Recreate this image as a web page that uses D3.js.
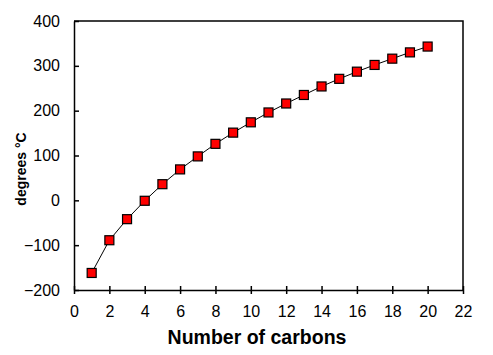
<!DOCTYPE html>
<html>
<head>
<meta charset="utf-8">
<script src="https://cdn.jsdelivr.net/npm/d3@7"></script>
<style>
  body { margin: 0; background: #fff; }
  text { font-family: "Liberation Sans", Arial, sans-serif; }
</style>
</head>
<body>
<div id="chart"></div>
<script>
// boiling points of straight-chain alkanes
const carbons = [1, 2, 3, 4, 5, 6, 7, 8, 9, 10, 11, 12, 13, 14, 15, 16, 17, 18, 19, 20];
const boiling = [-162, -89, -42, -1, 36, 69, 98, 126, 151, 174, 196, 216, 235, 254, 271, 287, 302, 316, 330, 343];
const xTicks = [0, 2, 4, 6, 8, 10, 12, 14, 16, 18, 20, 22];
const yTicks = [-200, -100, 0, 100, 200, 300, 400];

var margin = { top: 21, right: 30, bottom: 65, left: 74 },
    width = 493 - margin.left - margin.right,
    height = 355 - margin.top - margin.bottom;

const svg = d3.select("#chart")
  .append("svg")
    .attr("width", 493)
    .attr("height", 355)
  .append("g")
    .attr("transform", `translate(${margin.left}, ${margin.top})`);

const x = d3.scaleLinear().domain([0, 22]).range([0, width]);
const y = d3.scaleLinear().domain([-200, 400]).range([height, 0]);

// frame: top and right borders
svg.append("path")
  .attr("d", `M0,0H${width}V${height}`)
  .attr("fill", "none")
  .attr("stroke", "#000")
  .attr("stroke-width", 1.5);

// X axis
const xAxis = svg.append("g")
  .attr("transform", `translate(0, ${height})`)
  .call(d3.axisBottom(x).tickValues(xTicks).tickSize(4).tickSizeOuter(0).tickPadding(12));
xAxis.selectAll(".tick line").attr("y1", -4).attr("stroke-width", 1.5);
xAxis.select(".domain").attr("stroke-width", 1.5);
xAxis.selectAll("text").attr("font-size", 16).attr("fill", "#000");

// Y axis
const yAxis = svg.append("g")
  .call(d3.axisLeft(y).tickValues(yTicks).tickSize(5).tickSizeOuter(0).tickPadding(9));
yAxis.selectAll(".tick line").attr("x2", 5).attr("stroke-width", 1.5);
yAxis.select(".domain").attr("stroke-width", 1.5);
yAxis.selectAll("text").attr("font-size", 16).attr("fill", "#000");

svg.selectAll(".domain").attr("stroke", "#000");
svg.selectAll("text").attr("font-family", "Liberation Sans, Arial, sans-serif");

// axis titles
svg.append("text")
  .attr("x", 257 - margin.left)
  .attr("y", height + 54)
  .attr("text-anchor", "middle")
  .attr("font-size", 19.5)
  .attr("font-weight", "bold")
  .text("Number of carbons");

svg.append("text")
  .attr("transform", `translate(${26 - margin.left}, ${169 - margin.top}) rotate(-90)`)
  .attr("text-anchor", "middle")
  .attr("font-size", 14)
  .attr("font-weight", "bold")
  .text("degrees °C");

// line
const pts = carbons.map((c, i) => [c, boiling[i]]);
svg.append("path")
  .datum(pts)
  .attr("fill", "none")
  .attr("stroke", "#000")
  .attr("stroke-width", 1)
  .attr("d", d3.line().x(d => x(d[0])).y(d => y(d[1])));

// markers
const s = 9;
svg.selectAll("rect.pt")
  .data(pts)
  .join("rect")
    .attr("class", "pt")
    .attr("x", d => x(d[0]) - s / 2)
    .attr("y", d => y(d[1]) - s / 2)
    .attr("width", s)
    .attr("height", s)
    .attr("fill", "#ff0000")
    .attr("stroke", "#000")
    .attr("stroke-width", 1.2);
</script>
</body>
</html>
